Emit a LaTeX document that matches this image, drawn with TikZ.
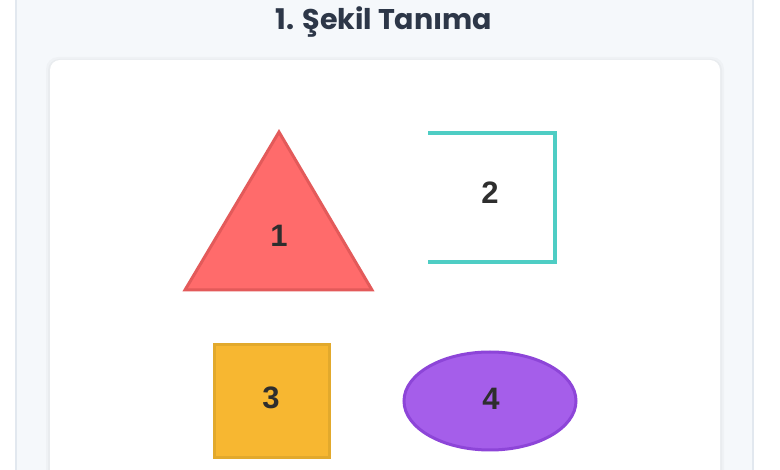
\documentclass[tikz,border=0pt]{standalone}
\usepackage{fontspec}
\setmainfont{Liberation Sans}
\newfontfamily\titlefont{Poppins}

\definecolor{panelbg}{HTML}{F5F8FB}
\definecolor{panelline}{HTML}{E2E8EF}
\definecolor{titletext}{HTML}{2D3748}
\definecolor{numtext}{HTML}{2E2E2E}
\definecolor{trifill}{HTML}{FF6B6B}
\definecolor{triline}{HTML}{E35A5A}
\definecolor{tealline}{HTML}{4ECDC4}
\definecolor{sqfill}{HTML}{F7B731}
\definecolor{sqline}{HTML}{E2A92C}
\definecolor{ovfill}{HTML}{A55EEA}
\definecolor{ovline}{HTML}{8D45D8}

\begin{document}
\begin{tikzpicture}[x=1pt,y=1pt]
\tikzstyle{every node}+=[inner sep=0pt]
\tikzstyle{num}=[font=\fontsize{31}{31}\selectfont\bfseries, text=numtext]
\useasboundingbox (0,0) rectangle (780,-470);
\fill [white] (0,0) rectangle (780,-470);
% outer panel
\draw [panelline, fill=panelbg, line width=2] (16,10) rectangle (753,-480);
% card with a faint shadow
\fill [black, opacity=0.025, rounded corners=12] (46,-57) rectangle (724,-490);
\fill [black, opacity=0.025, rounded corners=11] (48,-59) rectangle (722,-490);
\fill [white, rounded corners=10] (50,-60) rectangle (720,-490);
\draw (384,-22) node [font=\titlefont\fontsize{28.5}{28.5}\selectfont\bfseries, text=titletext] (title) {1. Şekil Tanıma};
% 1: triangle
\draw [triline, fill=trifill, line width=3] (279,-132) -- (372,-290) -- (185,-290) -- cycle;
\draw (279,-236) node [num] (n1) {1};
% 2: open square
\draw [tealline, line width=4] (428,-133) -- (555,-133) -- (555,-262) -- (428,-262);
\draw (490,-193) node [num] (n2) {2};
% 3: square
\draw [sqline, fill=sqfill, line width=3] (214,-345) rectangle (329,-458);
\draw (271,-398) node [num] (n3) {3};
% 4: ellipse
\draw [ovline, fill=ovfill, line width=3] (490,-401) ellipse (86 and 49);
\draw (491,-399) node [num] (n4) {4};
\end{tikzpicture}
\end{document}
